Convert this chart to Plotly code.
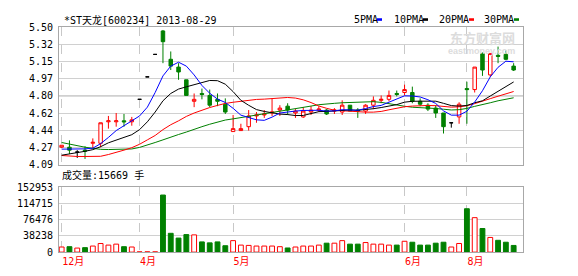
import plotly.graph_objects as go

W, H = 578, 276
ML, MR = 59, 55
PW = W - ML - MR


def px(x):
    return (x - ML) / PW


def py(y):
    return (H - y) / H


# ---------------- data ----------------
days = list(range(59))
opens = [4.27, 4.27, 4.22, 4.24, 4.31, 4.31, 4.53, 4.53, 4.54, 4.53,
         4.76, 4.99, 5.22, 5.46, 5.17, 5.09, 4.96, 4.74, 4.82, 4.80,
         4.76, 4.71, 4.43, 4.44, 4.48, 4.59, 4.60, 4.62, 4.65, 4.69,
         4.62, 4.58, 4.63, 4.65, 4.65, 4.64, 4.63, 4.70, 4.65, 4.64,
         4.70, 4.75, 4.76, 4.82, 4.83, 4.83, 4.74, 4.70, 4.67, 4.62,
         4.52, 4.58, 4.87, 4.86, 5.23, 5.01, 5.21, 5.22, 5.10]
highs = [4.29, 4.34, 4.24, 4.28, 4.36, 4.52, 4.59, 4.62, 4.61, 4.58,
         4.76, 4.99, 5.22, 5.47, 5.25, 5.13, 4.96, 4.82, 4.87, 4.86,
         4.82, 4.77, 4.60, 4.51, 4.65, 4.63, 4.65, 4.77, 4.70, 4.72,
         4.66, 4.68, 4.69, 4.69, 4.66, 4.67, 4.75, 4.70, 4.67, 4.71,
         4.79, 4.80, 4.85, 4.85, 4.91, 4.89, 4.77, 4.72, 4.70, 4.62,
         4.52, 4.73, 4.94, 5.09, 5.24, 5.23, 5.30, 5.26, 5.13]
lows = [4.26, 4.20, 4.16, 4.15, 4.26, 4.27, 4.46, 4.48, 4.48, 4.49,
        4.76, 4.99, 5.22, 5.13, 5.06, 4.96, 4.80, 4.68, 4.76, 4.68,
        4.69, 4.61, 4.43, 4.44, 4.44, 4.52, 4.57, 4.59, 4.59, 4.60,
        4.57, 4.57, 4.60, 4.63, 4.60, 4.61, 4.60, 4.64, 4.57, 4.61,
        4.66, 4.72, 4.74, 4.79, 4.80, 4.72, 4.69, 4.64, 4.57, 4.41,
        4.47, 4.51, 4.51, 4.83, 5.00, 4.99, 5.13, 5.16, 5.05]
closes = [4.29, 4.24, 4.22, 4.23, 4.32, 4.52, 4.54, 4.54, 4.53, 4.55,
          4.76, 4.99, 5.22, 5.35, 5.10, 5.04, 4.80, 4.76, 4.81, 4.70,
          4.74, 4.63, 4.46, 4.46, 4.59, 4.60, 4.61, 4.63, 4.67, 4.65,
          4.64, 4.64, 4.65, 4.66, 4.61, 4.65, 4.70, 4.64, 4.64, 4.70,
          4.75, 4.76, 4.80, 4.81, 4.86, 4.74, 4.71, 4.66, 4.62, 4.48,
          4.52, 4.71, 4.86, 5.09, 5.06, 5.23, 5.20, 5.17, 5.06]
volumes = [12000, 12750, 9500, 10500, 14250, 20250, 16500, 18750, 12750, 12000,
           600, 600, 600, 134200, 44240, 33000, 41240, 40500, 24000, 21750,
           24000, 15000, 27000, 16500, 15750, 14250, 14250, 14250, 12750, 9750,
           12000, 14250, 14250, 16500, 21000, 21000, 27000, 18750, 18750, 22500,
           18750, 18750, 16500, 16500, 25500, 23250, 16500, 16500, 21000, 23250,
           12000, 20250, 102000, 81000, 55500, 34500, 27750, 23250, 15669]
ma5 = [4.25, 4.25, 4.25, 4.253, 4.26, 4.306, 4.37, 4.44, 4.49, 4.536,
       4.59, 4.68, 4.83, 5.00, 5.10, 5.14, 5.10, 5.01, 4.902, 4.822,
       4.762, 4.728, 4.668, 4.598, 4.576, 4.55, 4.545, 4.578, 4.62, 4.632,
       4.64, 4.646, 4.65, 4.648, 4.64, 4.642, 4.654, 4.652, 4.648, 4.666,
       4.686, 4.698, 4.73, 4.764, 4.796, 4.794, 4.784, 4.756, 4.718, 4.642,
       4.598, 4.598, 4.638, 4.732, 4.848, 4.99, 5.088, 5.15, 5.144]
ma10 = [4.188, 4.20, 4.213, 4.228, 4.245, 4.275, 4.315, 4.345, 4.372, 4.398,
        4.45, 4.53, 4.63, 4.745, 4.82, 4.865, 4.888, 4.91, 4.938, 4.953,
        4.951, 4.915, 4.839, 4.75, 4.699, 4.655, 4.636, 4.623, 4.609, 4.604,
        4.594, 4.595, 4.614, 4.634, 4.636, 4.641, 4.65, 4.651, 4.648, 4.653,
        4.664, 4.676, 4.691, 4.706, 4.731, 4.74, 4.741, 4.743, 4.741, 4.719,
        4.696, 4.691, 4.697, 4.725, 4.745, 4.794, 4.843, 4.894, 4.938]
ma20 = [4.185, 4.177, 4.175, 4.175, 4.175, 4.177, 4.195, 4.215, 4.24, 4.265,
        4.30, 4.345, 4.39, 4.45, 4.50, 4.54, 4.585, 4.62, 4.65, 4.676,
        4.698, 4.718, 4.73, 4.741, 4.755, 4.759, 4.762, 4.767, 4.774, 4.779,
        4.773, 4.755, 4.727, 4.692, 4.668, 4.648, 4.643, 4.637, 4.629, 4.629,
        4.629, 4.636, 4.653, 4.67, 4.684, 4.691, 4.696, 4.697, 4.695, 4.686,
        4.68, 4.684, 4.694, 4.716, 4.738, 4.767, 4.792, 4.819, 4.84]
ma30 = [4.318, 4.30, 4.286, 4.27, 4.258, 4.248, 4.246, 4.246, 4.247, 4.252,
        4.268, 4.29, 4.318, 4.345, 4.375, 4.40, 4.425, 4.455, 4.48, 4.505,
        4.53, 4.548, 4.56, 4.573, 4.583, 4.596, 4.606, 4.622, 4.638, 4.652,
        4.663, 4.677, 4.691, 4.705, 4.715, 4.719, 4.725, 4.728, 4.732, 4.737,
        4.736, 4.729, 4.715, 4.697, 4.689, 4.679, 4.676, 4.672, 4.666, 4.659,
        4.651, 4.654, 4.667, 4.688, 4.704, 4.725, 4.745, 4.763, 4.776]

month_pos = [0, 10, 22, 44, 52]
month_labels = ["12月", "4月", "5月", "6月", "8月"]
price_labels = ["4.09", "4.27", "4.44", "4.62", "4.80", "4.97", "5.15", "5.32", "5.50"]
price_min, price_max = 4.09, 5.50
vol_ticks = [0, 38238, 76476, 114715, 152953]
title_text = "*ST天龙[600234] 2013-08-29"
vol_title = "成交量:15669 手"
ma_names = ["5PMA", "10PMA", "20PMA", "30PMA"]

RED = "#ff0000"
GREEN = "#008000"
BLUE = "#0000ff"
BLACK = "#000000"
ma_colors = [BLUE, BLACK, RED, GREEN]

# ---------------- traces ----------------
up_i = [i for i in days if closes[i] > opens[i]]
dn_i = [i for i in days if closes[i] < opens[i]]
fl_i = [i for i in days if closes[i] == opens[i]]


def sub(arr, idx):
    return [arr[i] for i in idx]


fig = go.Figure()


def candle(idx, fill, col):
    fig.add_trace(go.Candlestick(
        x=idx, open=sub(opens, idx), high=sub(highs, idx),
        low=sub(lows, idx), close=sub(closes, idx),
        increasing=dict(line=dict(color=col, width=1), fillcolor=fill),
        decreasing=dict(line=dict(color=col, width=1), fillcolor=fill),
        whiskerwidth=0, showlegend=False, hoverinfo="skip",
        xaxis="x", yaxis="y"))


for ma, col in zip([ma30, ma20, ma10, ma5], [GREEN, RED, BLACK, BLUE]):
    fig.add_trace(go.Scatter(x=days, y=ma, mode="lines",
                             line=dict(color=col, width=1),
                             showlegend=False, hoverinfo="skip",
                             xaxis="x", yaxis="y"))

candle(up_i, "#ffffff", RED)
candle(dn_i, GREEN, GREEN)
candle(fl_i, BLACK, BLACK)

vup_i = [i for i in days if closes[i] >= opens[i]]
vdn_i = dn_i
fig.add_trace(go.Bar(x=vup_i, y=sub(volumes, vup_i), width=0.62,
                     marker=dict(color="#ffffff", line=dict(color=RED, width=1)),
                     showlegend=False, hoverinfo="skip", xaxis="x2", yaxis="y2"))
fig.add_trace(go.Bar(x=vdn_i, y=sub(volumes, vdn_i), width=0.62,
                     marker=dict(color=GREEN, line=dict(color=GREEN, width=1)),
                     showlegend=False, hoverinfo="skip", xaxis="x2", yaxis="y2"))

# ---------------- layout ----------------
MONO = "DejaVu Sans Mono, Noto Sans CJK SC"
step = (price_max - price_min) / (len(price_labels) - 1)
price_tickvals = [price_min + k * step for k in range(len(price_labels))]
xr = [-0.34, 59.2]
axis_line = dict(showline=True, mirror=True, linecolor="#a8a8a8", linewidth=1,
                 zeroline=False, ticks="")

fig.update_layout(
    width=W, height=H,
    margin=dict(l=ML, r=MR, t=0, b=0),
    paper_bgcolor="#ffffff", plot_bgcolor="#ffffff",
    barmode="overlay", boxgap=0.36,
    xaxis=dict(domain=[0, 1], anchor="y", range=xr, tickvals=month_pos,
               showticklabels=False, showgrid=True, gridcolor="#c8c8c8",
               griddash="dash", gridwidth=1, rangeslider=dict(visible=False),
               **axis_line),
    yaxis=dict(domain=[py(166), py(22)], range=[price_min, price_max],
               tickvals=price_tickvals, ticktext=price_labels,
               showgrid=True, gridcolor="#d0d0d0", gridwidth=1,
               tickfont=dict(family=MONO, size=10, color="#000000"),
               ticklabelstandoff=3, **axis_line),
    xaxis2=dict(domain=[0, 1], anchor="y2", matches="x", range=xr,
                tickvals=month_pos, ticktext=month_labels,
                ticklabelposition="outside right",
                tickfont=dict(family=MONO, size=10, color=RED),
                showgrid=True, gridcolor="#c8c8c8", griddash="dash", gridwidth=1,
                rangeslider=dict(visible=False), **axis_line),
    yaxis2=dict(domain=[py(257.3), py(189.3)], range=[0, vol_ticks[-1]],
                tickvals=vol_ticks, ticktext=[str(v) for v in vol_ticks],
                showgrid=True, gridcolor="#d0d0d0", gridwidth=1,
                tickfont=dict(family=MONO, size=10, color="#000000"),
                ticklabelstandoff=3, **axis_line),
    font=dict(family=MONO, size=10, color="#000000"),
)

# darker middle grid line of price panel
fig.add_shape(type="line", xref="x domain", yref="y", x0=0, x1=1,
              y0=price_tickvals[4], y1=price_tickvals[4],
              line=dict(color="#a8a8a8", width=1), layer="below")

annots = []
annots.append(dict(text=title_text, x=px(62), y=py(14.5), xref="paper", yref="paper",
                   xanchor="left", yanchor="middle", showarrow=False,
                   font=dict(family=MONO, size=10, color="#000000")))
annots.append(dict(text=vol_title, x=px(60), y=py(177), xref="paper", yref="paper",
                   xanchor="left", yanchor="middle", showarrow=False,
                   font=dict(family=MONO, size=10, color="#000000")))
leg_x = [351.7, 391.7, 436.7, 481.7]
mark_x = [377, 423, 469, 514]
for name, lx, mx, col in zip(ma_names, leg_x, mark_x, ma_colors):
    annots.append(dict(text=name, x=px(lx), y=py(14.5), xref="paper", yref="paper",
                       xanchor="left", yanchor="middle", showarrow=False,
                       font=dict(family=MONO, size=10, color="#000000")))
    fig.add_shape(type="rect", xref="paper", yref="paper",
                  x0=px(mx), x1=px(mx + 5), y0=py(15.5), y1=py(12.8),
                  fillcolor=col, line=dict(width=0))
# watermark
annots.append(dict(text="<b>东方财富网</b>", x=px(517), y=py(32.5), xref="paper", yref="paper",
                   xanchor="right", yanchor="middle", showarrow=False,
                   font=dict(family="Noto Sans CJK SC", size=13, color="#dcdcdc")))
annots.append(dict(text="<b>eastmoney.com</b>", x=px(517), y=py(47), xref="paper", yref="paper",
                   xanchor="right", yanchor="middle", showarrow=False,
                   font=dict(family="Liberation Sans", size=9, color="#dcdcdc")))
fig.update_layout(annotations=annots)

fig.write_html("out.html")
